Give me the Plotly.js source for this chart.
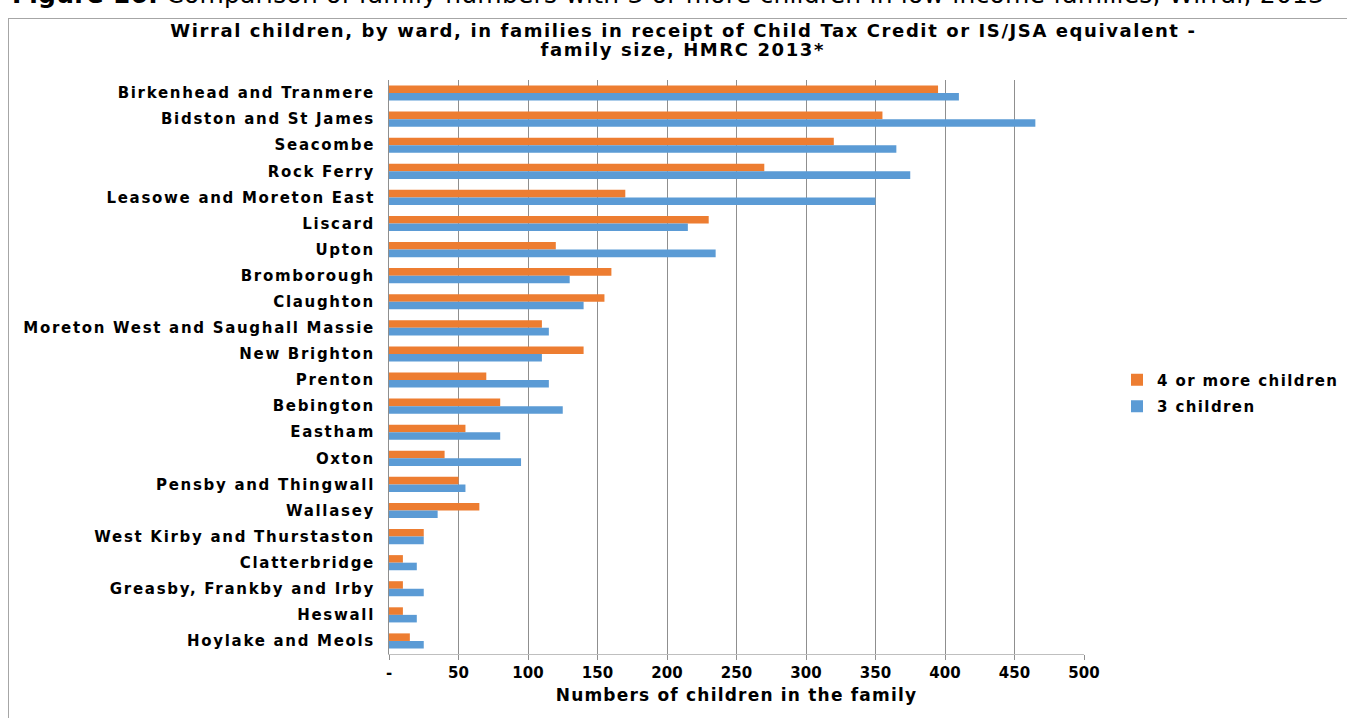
<!DOCTYPE html>
<html>
<head>
<meta charset="utf-8">
<script src="https://cdn.plot.ly/plotly-3.0.1.min.js"></script>
<style>
html,body{margin:0;padding:0;background:#fff;overflow:hidden;}
#chart{width:1347px;height:718px;}
#chart .ytick text{letter-spacing:1.7px;}
#chart .xtitle{letter-spacing:1.2px;}
#chart .legendtext{letter-spacing:1.4px;}
</style>
</head>
<body>
<div id="chart"></div>
<script>
const wards = [
  "Birkenhead and Tranmere","Bidston and St James","Seacombe","Rock Ferry",
  "Leasowe and Moreton East","Liscard","Upton","Bromborough","Claughton",
  "Moreton West and Saughall Massie","New Brighton","Prenton","Bebington",
  "Eastham","Oxton","Pensby and Thingwall","Wallasey","West Kirby and Thurstaston",
  "Clatterbridge","Greasby, Frankby and Irby","Heswall","Hoylake and Meols"
];
const fourPlus = [395,355,320,270,170,230,120,160,155,110,140,70,80,55,40,50,65,25,10,10,10,15];
const threeKids = [410,465,365,375,350,215,235,130,140,115,110,115,125,80,95,55,35,25,20,25,20,25];
const tickVals = [0,50,100,150,200,250,300,350,400,450,500];
const tickText = ["-","50","100","150","200","250","300","350","400","450","500"];
const titleLines = [
  "Wirral children, by ward, in families in receipt of Child Tax Credit or IS/JSA equivalent -",
  "family size, HMRC 2013*"
];

const FONT = "DejaVu Sans, Liberation Sans, Arial, sans-serif";

const traces = [
  {type:"bar", orientation:"h", name:"4 or more children", y:wards, x:fourPlus,
   legendgroup:"a", marker:{color:"#ED7D31"}},
  {type:"bar", orientation:"h", name:"3 children", y:wards, x:threeKids,
   legendgroup:"b", marker:{color:"#5B9BD5"}}
];

// plot area: x 389..1084, y 80..654 (pixels)
const L=389, R=1084, T=80, B=654, W=R-L, H=B-T;
const px = v => (v-L)/W;
const py = v => (B-v)/H;

const layout = {
  width:1347, height:718,
  margin:{l:L, r:1347-R, t:T, b:718-B, pad:0},
  paper_bgcolor:"#fff", plot_bgcolor:"#fff",
  barmode:"group", bargap:0.42, bargroupgap:0,
  font:{family:FONT, color:"#000"},
  xaxis:{
    range:[0,500], tickvals:tickVals, ticktext:tickText,
    showgrid:true, gridcolor:"#8f8f8f", gridwidth:1,
    showline:true, linecolor:"#bfbfbf", linewidth:1,
    ticks:"outside", ticklen:5, tickcolor:"#8f8f8f",
    zeroline:false,
    tickfont:{family:FONT, size:15, color:"#000", weight:"bold"},
    title:{text:"<b>Numbers of children in the family</b>", font:{family:FONT, size:17, color:"#000"}, standoff:8},
    fixedrange:true
  },
  yaxis:{
    type:"category", autorange:"reversed",
    showgrid:false, showline:true, linecolor:"#8f8f8f", linewidth:1,
    ticks:"", ticklabelstandoff:10,
    tickfont:{family:FONT, size:15, color:"#000", weight:"bold"},
    fixedrange:true
  },
  legend:{
    x:px(1117), xanchor:"left", y:py(393), yanchor:"middle",
    traceorder:"grouped", tracegroupgap:4,
    font:{family:FONT, size:15, color:"#000", weight:"bold"},
    bgcolor:"rgba(0,0,0,0)", itemwidth:30
  },
  annotations:[
    {text:"<b>Figure 16:</b> Comparison of family numbers with 3 or more children in low income families, Wirral, 2013",
     xref:"paper", yref:"paper", x:px(20), xanchor:"left", y:py(11), yanchor:"bottom",
     showarrow:false, font:{family:FONT, size:25, color:"#000"}},
    {text:"<b>"+titleLines[0]+"</b>",
     xref:"paper", yref:"paper", x:px(683), xanchor:"center", y:py(31), yanchor:"middle",
     showarrow:false, font:{family:FONT, size:18, color:"#000"}},
    {text:"<b>"+titleLines[1]+"</b>",
     xref:"paper", yref:"paper", x:px(683), xanchor:"center", y:py(49), yanchor:"middle",
     showarrow:false, font:{family:FONT, size:18, color:"#000"}}
  ],
  shapes:[
    {type:"line", xref:"paper", yref:"paper", x0:px(8), x1:px(1350), y0:py(18.5), y1:py(18.5),
     line:{color:"#a6a6a6", width:1}},
    {type:"line", xref:"paper", yref:"paper", x0:px(8.5), x1:px(8.5), y0:py(18.5), y1:py(720),
     line:{color:"#a6a6a6", width:1}}
  ],
  showlegend:true
};

Plotly.newPlot("chart", traces, layout, {displayModeBar:false, staticPlot:true}).then(gd => {
  const anns = gd.querySelectorAll(".annotation");
  const cap = anns[0] && anns[0].querySelector("text");
  if (cap) cap.style.letterSpacing = "0.2px";
  [1,2].forEach(i => {
    const t = anns[i] && anns[i].querySelector("text");
    if (t) t.style.letterSpacing = "1.6px";
  });
  // let the letter-spaced legend text show in full
  gd.querySelectorAll(".legend .scrollbox").forEach(s => s.removeAttribute("clip-path"));
});
</script>
</body>
</html>
